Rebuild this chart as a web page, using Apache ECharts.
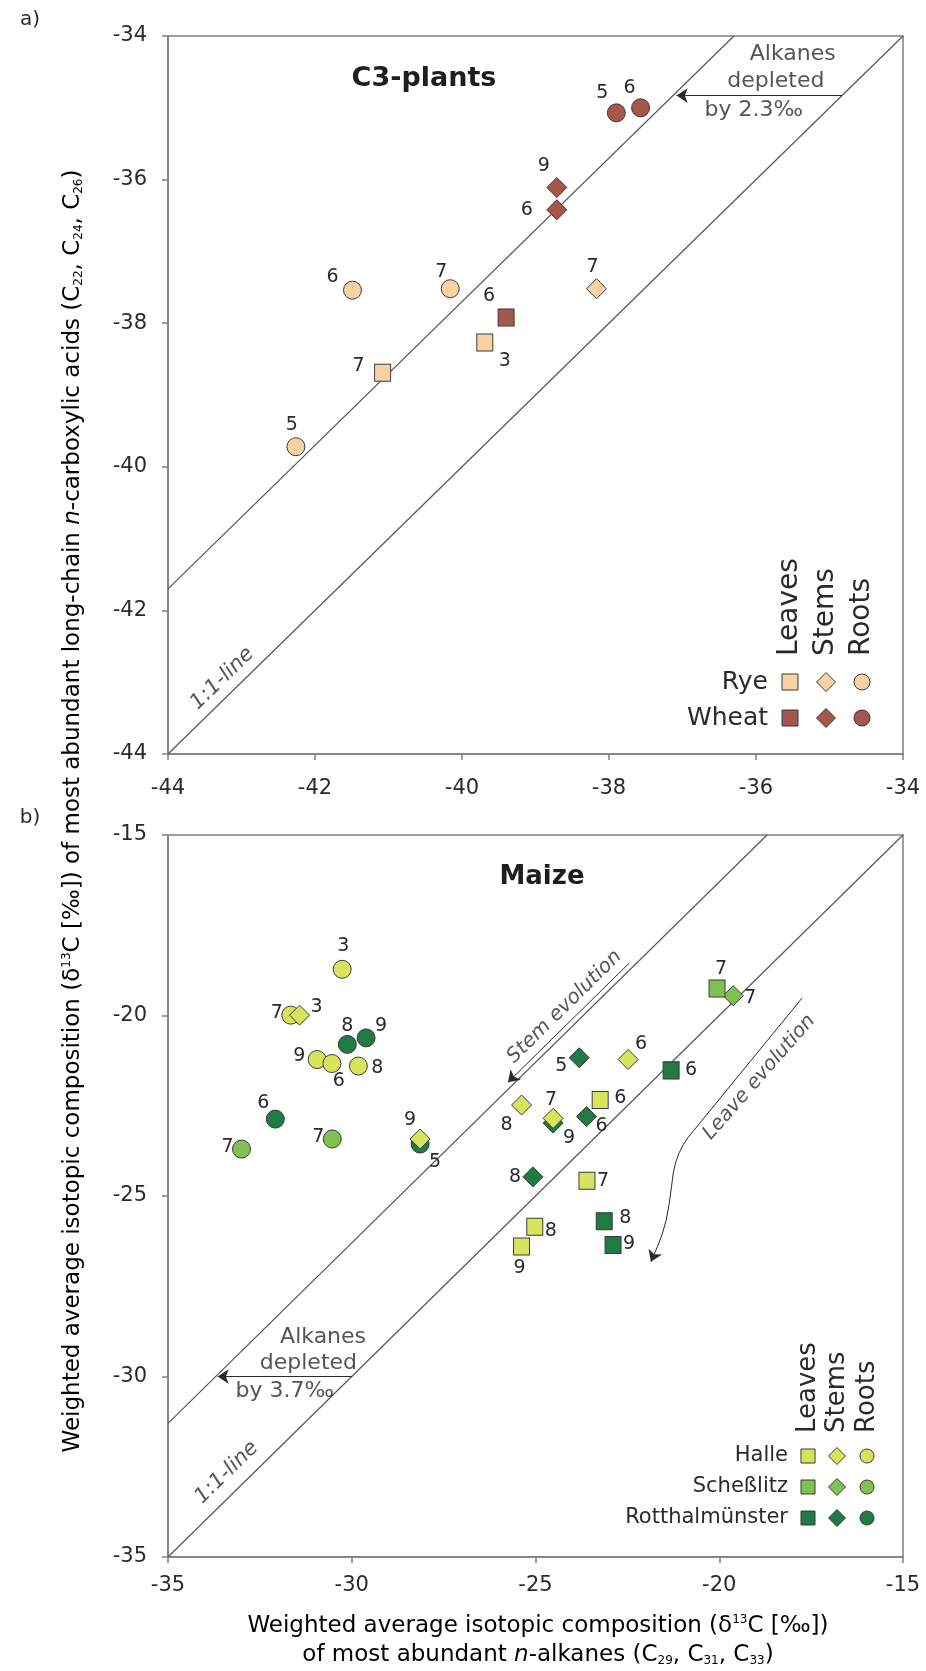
<!DOCTYPE html>
<html><head><meta charset="utf-8">
<script src="https://cdn.jsdelivr.net/npm/echarts@6/dist/echarts.min.js"></script>
<style>html,body{margin:0;padding:0;background:#fff}#c{width:926px;height:1671px}</style>
</head><body><div id="c"></div>
<script>
// ================= DATA =================
// Panel a) C3 plants: [x = δ13C n-alkanes, y = δ13C n-carboxylic acids, sampling label]
const ryeLeaves   = [[-41.08,-38.69,'7'],[-39.69,-38.27,'3']];
const ryeStems    = [[-38.17,-37.52,'7']];
const ryeRoots    = [[-42.26,-39.72,'5'],[-41.49,-37.54,'6'],[-40.16,-37.52,'7']];
const wheatLeaves = [[-39.40,-37.92,'6']];
const wheatStems  = [[-38.71,-36.11,'9'],[-38.71,-36.42,'6']];
const wheatRoots  = [[-37.90,-35.07,'5'],[-37.57,-35.00,'6']];

// Panel b) Maize
const halleLeaves = [[-23.24,-22.34,'6'],[-23.60,-24.58,'7'],[-25.02,-25.85,'8'],[-25.38,-26.40,'9']];
const halleStems  = [[-31.42,-19.99,'3'],[-28.14,-23.42,'9'],[-25.38,-22.48,'8'],[-24.52,-22.85,'7'],[-22.48,-21.22,'6']];
const halleRoots  = [[-30.26,-18.72,'3'],[-31.66,-19.99,'7'],[-30.94,-21.22,'9'],[-30.54,-21.33,'6'],[-29.82,-21.40,'8']];
const schLeaves   = [[-20.06,-19.25,'7']];
const schStems    = [[-19.62,-19.45,'7']];
const schRoots    = [[-33.00,-23.70,'7'],[-30.53,-23.42,'7']];
const rotLeaves   = [[-21.31,-21.52,'6'],[-23.13,-25.70,'8'],[-22.89,-26.36,'9']];
const rotStems    = [[-23.81,-21.17,'5'],[-23.61,-22.80,'6'],[-25.07,-24.47,'8'],[-24.52,-22.98,'9']];
const rotRoots    = [[-30.12,-20.80,'8'],[-29.61,-20.62,'9'],[-32.08,-22.87,'6'],[-28.14,-23.56,'5']];

// Offsets (‰) of the "alkanes depleted" lines from the 1:1 line
const c3Offset = 2.3;
const maizeOffset = 3.7;

// Axis ranges / ticks
const c3Axis = {min:-44, max:-34, interval:2};
const maizeAxis = {min:-35, max:-15, interval:5};

// ================= STYLE =================
const FONT = 'DejaVu Sans';
const TXT = '#2a2a2a';
const AX = '#808080';
const COL = {rye:'#f9d2a3', wheat:'#a5574b', halle:'#d8e45c', sch:'#7fc252', rot:'#1f7a43'};
// label offsets (px) for each point, same order as data arrays
const OFF = {
  ryeLeaves:[[-24,-7],[20,18]], ryeStems:[[-4,-22]], ryeRoots:[[-4,-22],[-20,-13],[-9,-17]],
  wheatLeaves:[[-17,-21]], wheatStems:[[-13,-21],[-30,0]], wheatRoots:[[-14,-20],[-11,-20]],
  halleLeaves:[[20,-2],[16,0],[16,4],[-2,22]],
  halleStems:[[17,-8],[-10,-19],[-15,20],[-2,-18],[13,-15]],
  halleRoots:[[1,-23],[-14,-2],[-18,-3],[7,18],[19,2]],
  schLeaves:[[4,-19]], schStems:[[17,2]], schRoots:[[-14,-2],[-14,-2]],
  rotLeaves:[[20,0],[21,-3],[16,-1]],
  rotStems:[[-18,8],[15,9],[-18,0],[16,15]],
  rotRoots:[[0,-18],[15,-12],[-12,-16],[15,18]]
};
const SYM = {leaf:['rect',[16,17]], stem:['diamond',[20,20]], root:['circle',18]};

function sc(data, off, kind, color, gi, z){
  return {type:'scatter', xAxisIndex:gi, yAxisIndex:gi, symbol:SYM[kind][0], symbolSize:SYM[kind][1], z:z,
    itemStyle:{color:color, borderColor:'#3a3a3a', borderWidth:1, opacity:1},
    label:{show:true, position:'inside', color:TXT, fontSize:19, fontFamily:FONT, formatter:p=>p.value[2]},
    emphasis:{disabled:true}, silent:true,
    data:data.map((d,i)=>({value:d, label:{offset:off[i], color:TXT}}))};
}

const ARROW_ML = {silent:true, symbol:['none','arrow'], symbolSize:11, animation:false, precision:4,
  lineStyle:{color:'#2a2a2a', width:1, type:'solid'}, label:{show:false}, emphasis:{disabled:true}};

function refLines(ax, off, gi, arrow){
  const lo = ax.min, hi = ax.max;
  const base = {type:'line', xAxisIndex:gi, yAxisIndex:gi, symbol:'none', silent:true, z:1,
    lineStyle:{color:'#555', width:1.2}};
  return [
    Object.assign({}, base, {data:[[lo,lo],[hi,hi]]}),
    Object.assign({}, base, {data:[[lo,lo+off],[hi-off,hi]],
      markLine:Object.assign({}, ARROW_ML, {
        data:[[{coord:[arrow[0],arrow[1]]},{coord:[arrow[0]-off+0.05,arrow[1]]}]]})})
  ];
}

function notes(list, gi){
  return {type:'scatter', xAxisIndex:gi, yAxisIndex:gi, symbolSize:0, silent:true, z:5,
    itemStyle:{color:'transparent'},
    label:{show:true, position:'inside', color:TXT, fontSize:22, fontFamily:FONT, formatter:'{b}'},
    data:list.map(n=>({name:n.t, value:[n.x,n.y],
      label:{rotate:n.r||0, color:TXT, fontStyle:n.it?'italic':'normal', fontSize:n.fs||22}}))};
}

const notesA = [
  {t:'1:1-line', x:-43.26, y:-42.95, r:44.3, it:true, fs:21},
  {t:'Alkanes', x:-35.50, y:-34.26},
  {t:'depleted', x:-35.73, y:-34.63},
  {t:'by 2.3‰', x:-36.03, y:-35.03}
];
const notesB = [
  {t:'1:1-line', x:-33.40, y:-32.66, r:44.5, it:true, fs:21},
  {t:'Alkanes', x:-30.78, y:-28.90},
  {t:'depleted', x:-31.18, y:-29.64},
  {t:'by 3.7‰', x:-31.82, y:-30.42},
  {t:'Stem evolution', x:-24.21, y:-19.76, r:44.5, it:true, fs:20},
  {t:'Leave evolution', x:-18.91, y:-21.71, r:48.7, it:true, fs:20}
];
const stemArrow = [[-22.45,-18.55],[-25.75,-21.85]];
const leaveArrow = [[-17.75,-19.52],[-20.85,-23.38],[-20.98,-23.58],[-21.09,-23.80],[-21.18,-24.05],
                    [-21.25,-24.35],[-21.30,-24.75],[-21.36,-25.20],[-21.44,-25.65],[-21.55,-26.05],[-21.68,-26.40]];
const leaveTip = [-21.86,-26.82];

function axisCfg(ax, gi, margin){
  return {type:'value', gridIndex:gi, min:ax.min, max:ax.max, interval:ax.interval,
    axisLine:{show:true, onZero:false, lineStyle:{color:AX, width:1.5}},
    axisTick:{show:true, length:6, lineStyle:{color:AX, width:1.5}},
    axisLabel:{fontSize:21, color:TXT, fontFamily:FONT, margin:margin},
    splitLine:{show:false}};
}

const chart = echarts.init(document.getElementById('c'), null, {renderer:'canvas'});

const last = leaveArrow[leaveArrow.length-1];
const series = [].concat(
  refLines(c3Axis, c3Offset, 0, [-34.83,-34.83]),
  refLines(maizeAxis, maizeOffset, 1, [-30.0,-30.0]),
  [
    {type:'line', xAxisIndex:1, yAxisIndex:1, symbol:'none', silent:true, z:3, smooth:false,
     lineStyle:{color:'#2a2a2a', width:1}, data:leaveArrow,
     markLine:Object.assign({}, ARROW_ML, {data:[
       [{coord:stemArrow[0]},{coord:stemArrow[1]}],
       [{coord:last},{coord:leaveTip}]
     ]})},
    sc(ryeRoots, OFF.ryeRoots, 'root', COL.rye, 0, 10),
    sc(ryeStems, OFF.ryeStems, 'stem', COL.rye, 0, 11),
    sc(ryeLeaves, OFF.ryeLeaves, 'leaf', COL.rye, 0, 12),
    sc(wheatRoots, OFF.wheatRoots, 'root', COL.wheat, 0, 13),
    sc(wheatStems, OFF.wheatStems, 'stem', COL.wheat, 0, 14),
    sc(wheatLeaves, OFF.wheatLeaves, 'leaf', COL.wheat, 0, 15),
    sc(rotRoots, OFF.rotRoots, 'root', COL.rot, 1, 10),
    sc(rotStems, OFF.rotStems, 'stem', COL.rot, 1, 11),
    sc(rotLeaves, OFF.rotLeaves, 'leaf', COL.rot, 1, 12),
    sc(schRoots, OFF.schRoots, 'root', COL.sch, 1, 13),
    sc(schStems, OFF.schStems, 'stem', COL.sch, 1, 14),
    sc(schLeaves, OFF.schLeaves, 'leaf', COL.sch, 1, 15),
    sc(halleRoots, OFF.halleRoots, 'root', COL.halle, 1, 16),
    sc(halleStems, OFF.halleStems, 'stem', COL.halle, 1, 17),
    sc(halleLeaves, OFF.halleLeaves, 'leaf', COL.halle, 1, 18),
    notes(notesA, 0),
    notes(notesB, 1)
  ]
);

// ---- legends & texts (graphic)
function legend(x0, rows, ys, xs, hdrY, fsRow, fsHdr, sz){
  const g = [];
  ['Leaves','Stems','Roots'].forEach((h,i)=>{
    g.push({type:'text', x:xs[i], y:hdrY, rotation:Math.PI/2,
      style:{text:h, fill:TXT, font:fsHdr+'px "'+FONT+'"', align:'left', verticalAlign:'middle'}});
  });
  rows.forEach((r,j)=>{
    const y = ys[j];
    g.push({type:'text', x:x0, y:y, style:{text:r.name, fill:TXT, font:fsRow+'px "'+FONT+'"', align:'right', verticalAlign:'middle'}});
    const st = {fill:r.color, stroke:'#3a3a3a', lineWidth:1};
    const h = sz/2;
    g.push({type:'rect', shape:{x:xs[0]-h, y:y-h, width:sz, height:sz}, style:st});
    g.push({type:'polygon', shape:{points:[[xs[1],y-h-1.5],[xs[1]+h+1.5,y],[xs[1],y+h+1.5],[xs[1]-h-1.5,y]]}, style:st});
    g.push({type:'circle', shape:{cx:xs[2], cy:y, r:h}, style:st});
  });
  return g;
}

const yTitle = '{n|Weighted average isotopic composition (δ}{sup|13}{n|C [‰]) of most abundant long-chain }{i|n}{n|-carboxylic acids (C}{sub|22}{n|, C}{sub|24}{n|, C}{sub|26}{n|)}';
const xTitle1 = '{n|Weighted average isotopic composition (δ}{sup|13}{n|C [‰])}';
const xTitle2 = '{n|of most abundant }{i|n}{n|-alkanes (C}{sub|29}{n|, C}{sub|31}{n|, C}{sub|33}{n|)}';
const rich = {
  n:{fontSize:23, fontFamily:FONT, color:TXT, lineHeight:28, verticalAlign:'middle'},
  i:{fontSize:23, fontFamily:FONT, fontStyle:'italic', color:TXT, lineHeight:28, verticalAlign:'middle'},
  sup:{fontSize:12, fontFamily:FONT, color:TXT, lineHeight:28, verticalAlign:'top', padding:[2,0,0,0]},
  sub:{fontSize:12, fontFamily:FONT, color:TXT, lineHeight:28, verticalAlign:'bottom', padding:[0,0,2,0]}
};

const graphics = [
  {type:'text', x:30, y:20, style:{text:'a)', fill:TXT, font:'20px "'+FONT+'"', align:'center', verticalAlign:'middle'}},
  {type:'text', x:30, y:818, style:{text:'b)', fill:TXT, font:'20px "'+FONT+'"', align:'center', verticalAlign:'middle'}},
  {type:'text', x:424, y:79, style:{text:'C3-plants', fill:'#1e1e1e', font:'bold 27px "'+FONT+'"', align:'center', verticalAlign:'middle'}},
  {type:'text', x:542, y:877, style:{text:'Maize', fill:'#1e1e1e', font:'bold 26px "'+FONT+'"', align:'center', verticalAlign:'middle'}},
  {type:'text', x:73, y:811, rotation:Math.PI/2, style:{text:yTitle, rich:rich, align:'center', verticalAlign:'middle'}},
  {type:'text', x:538, y:1626, style:{text:xTitle1, rich:rich, align:'center', verticalAlign:'middle'}},
  {type:'text', x:538, y:1655, style:{text:xTitle2, rich:rich, align:'center', verticalAlign:'middle'}}
].concat(
  legend(768, [{name:'Rye', color:COL.rye},{name:'Wheat', color:COL.wheat}], [682,718], [790,826,862], 656, 25, 28, 16),
  legend(788, [{name:'Halle', color:COL.halle},{name:'Scheßlitz', color:COL.sch},{name:'Rotthalmünster', color:COL.rot}],
         [1456,1487,1518], [808,837,867], 1433, 21, 26, 14)
);

chart.setOption({
  animation:false,
  backgroundColor:'#fff',
  grid:[
    {left:168, top:36, width:735, height:718, show:true, borderColor:AX, borderWidth:1.5, backgroundColor:'transparent'},
    {left:168, top:835, width:735, height:722, show:true, borderColor:AX, borderWidth:1.5, backgroundColor:'transparent'}
  ],
  xAxis:[axisCfg(c3Axis,0,24), axisCfg(maizeAxis,1,18)],
  yAxis:[axisCfg(c3Axis,0,21), axisCfg(maizeAxis,1,21)],
  series:series,
  graphic:graphics
});
</script></body></html>
